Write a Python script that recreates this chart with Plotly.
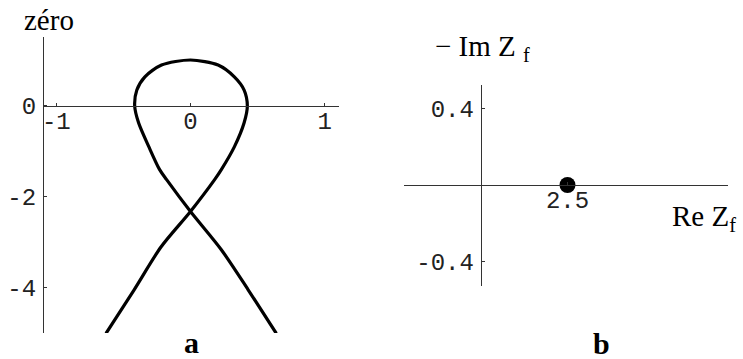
import plotly.graph_objects as go

# Panel a: traced zero locus (x, y), one continuous path
zero_x = [-0.63, -0.42, -0.22, 0.0, 0.18, 0.23, 0.327, 0.40, 0.424, 0.40, 0.327, 0.206, 0.0,
          -0.216, -0.34, -0.40, -0.416, -0.387, -0.31, -0.23, -0.178, 0.0, 0.23, 0.43, 0.64]
zero_y = [-5.0, -4.04, -3.10, -2.32, -1.62, -1.40, -0.90, -0.37, 0.0, 0.35, 0.64, 0.90, 1.01,
          0.90, 0.64, 0.35, 0.0, -0.37, -0.90, -1.40, -1.62, -2.32, -3.16, -4.04, -5.0]

# Panel b: impedance point
re_z = [2.5]
neg_im_z = [0.0]

# Tick labels
a_xticks = [-1, 0, 1]
a_xtext = ["-1", "0", "1"]
a_yticks = [0, -2, -4]
a_ytext = ["0", "-2", "-4"]
b_xticks = [2.5]
b_xtext = ["2.5"]
b_yticks = [0.4, -0.4]
b_ytext = ["0.4", "-0.4"]

W, H = 743, 359
mono = dict(family="Liberation Mono, Courier New, monospace", size=24, color="#222")
serif = "Liberation Serif, Times New Roman, serif"

fig = go.Figure()
fig.add_trace(go.Scatter(x=zero_x, y=zero_y, mode="lines", xaxis="x", yaxis="y",
                         line=dict(color="black", width=3.2, shape="spline", smoothing=0.8),
                         showlegend=False, hoverinfo="skip"))
fig.add_trace(go.Scatter(x=re_z, y=neg_im_z, mode="markers", xaxis="x2", yaxis="y2",
                         marker=dict(color="black", size=16),
                         showlegend=False, hoverinfo="skip"))

axis_common = dict(showgrid=False, zeroline=False, showline=True, linecolor="#333",
                   linewidth=1, ticks="inside", ticklen=3, tickcolor="#333",
                   tickfont=mono, fixedrange=True)

fig.update_layout(
    width=W, height=H, autosize=False,
    margin=dict(l=0, r=0, t=0, b=0),
    paper_bgcolor="white", plot_bgcolor="white",
    xaxis=dict(domain=[42 / W, 338 / W], range=[-1.093, 1.108], anchor="free",
               position=1 - 106 / H, tickvals=a_xticks, ticktext=a_xtext,
               ticklabelstandoff=-7, **axis_common),
    yaxis=dict(domain=[1 - 333 / H, 1 - 37 / H], range=[-4.99, 1.516], anchor="x",
               tickvals=a_yticks, ticktext=a_ytext, ticklabelstandoff=2, **axis_common),
    xaxis2=dict(domain=[403 / W, 728 / W], range=[-2.213, 7.126], anchor="free",
                position=1 - 185 / H, tickvals=b_xticks, ticktext=b_xtext,
                ticklabelstandoff=-7, **axis_common),
    yaxis2=dict(domain=[1 - 286 / H, 1 - 85 / H], range=[-0.529, 0.524], anchor="free",
                position=480 / W, tickvals=b_yticks, ticktext=b_ytext,
                ticklabelstandoff=2, **axis_common),
)

def label(text, x, y, size, xanchor="left", yanchor="middle", bold=False):
    fig.add_annotation(text=f"<b>{text}</b>" if bold else text, x=x / W, y=1 - y / H,
                       xref="paper", yref="paper", xanchor=xanchor, yanchor=yanchor,
                       showarrow=False, font=dict(family=serif, size=size, color="black"))

label("zéro", 20, 20, 29)
label("− Im Z <sub>f</sub>", 432, 48, 29)
label("Re Z<sub>f</sub>", 670, 218, 29)
label("a", 190, 342, 30, xanchor="center", bold=True)
label("b", 601, 343, 30, xanchor="center", bold=True)

fig.write_html("out.html")
